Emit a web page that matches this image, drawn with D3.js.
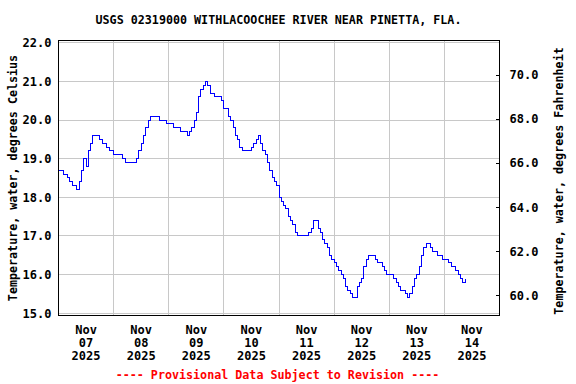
<!DOCTYPE html>
<html>
<head>
<meta charset="utf-8">
<script src="https://cdn.jsdelivr.net/npm/d3@7"></script>
<style>
  body { margin: 0; background: #fff; }
  text { font-family: "DejaVu Sans Mono", monospace; font-weight: bold; }
</style>
</head>
<body>
<svg id="chart" width="576" height="384"></svg>
<script>
// hourly water temperature, deg C, starting Nov 07 2025 00:00
var startTime = "2025-11-07T00:00:00";
var endTime = "2025-11-15T00:00:00";
var tempC = [
  18.7, 18.7, 18.6, 18.6, 18.5, 18.4, 18.3, 18.3, 18.2, 18.4, 18.7, 19.0, 18.8, 19.2, 19.4, 19.6,
  19.6, 19.6, 19.5, 19.4, 19.4, 19.3, 19.2, 19.2, 19.1, 19.1, 19.1, 19.1, 19.0, 18.9, 18.9, 18.9,
  18.9, 18.9, 19.0, 19.2, 19.4, 19.6, 19.8, 20.0, 20.1, 20.1, 20.1, 20.1, 20.0, 20.0, 20.0, 19.9,
  19.9, 19.9, 19.8, 19.8, 19.8, 19.7, 19.7, 19.7, 19.6, 19.7, 19.8, 20.0, 20.2, 20.6, 20.8, 20.9,
  21.0, 20.9, 20.7, 20.7, 20.6, 20.6, 20.6, 20.5, 20.3, 20.3, 20.1, 20.0, 19.8, 19.6, 19.5, 19.3,
  19.2, 19.2, 19.2, 19.2, 19.3, 19.4, 19.5, 19.6, 19.4, 19.2, 19.1, 18.9, 18.7, 18.5, 18.4, 18.3,
  18.0, 17.9, 17.8, 17.7, 17.5, 17.4, 17.3, 17.1, 17.0, 17.0, 17.0, 17.0, 17.0, 17.1, 17.2, 17.4,
  17.4, 17.2, 17.1, 16.9, 16.8, 16.7, 16.5, 16.4, 16.3, 16.2, 16.1, 16.0, 15.9, 15.7, 15.6, 15.5,
  15.4, 15.4, 15.7, 15.8, 15.9, 16.2, 16.4, 16.5, 16.5, 16.5, 16.4, 16.3, 16.3, 16.2, 16.1, 16.0,
  16.0, 16.0, 15.9, 15.8, 15.7, 15.6, 15.6, 15.5, 15.4, 15.5, 15.7, 15.9, 16.0, 16.2, 16.5, 16.7,
  16.8, 16.8, 16.7, 16.6, 16.6, 16.5, 16.5, 16.4, 16.4, 16.4, 16.3, 16.2, 16.2, 16.1, 16.0, 15.9,
  15.8, 15.9
];
var celsiusTicks = [15, 16, 17, 18, 19, 20, 21, 22];
var fahrenheitTicks = [60, 62, 64, 66, 68, 70];
var dayLabels = ["07", "08", "09", "10", "11", "12", "13", "14"];
var monthLabel = "Nov";
var yearLabel = "2025";
var titleText = "USGS 02319000 WITHLACOOCHEE RIVER NEAR PINETTA, FLA.";
var footerText = "---- Provisional Data Subject to Revision ----";
var leftTitle = "Temperature, water, degrees Celsius";
var rightTitle = "Temperature, water, degrees Fahrenheit";

var svg = d3.select("#chart");
var margin = { top: 40.5, left: 58.5 };
var plotWidth = 441;
var plotHeight = 275;

var t0 = new Date(startTime);
var points = tempC.map(function(v, i) {
  return { t: d3.timeHour.offset(t0, i), v: v };
});

var x = d3.scaleTime()
  .domain([t0, new Date(endTime)])
  .range([0, plotWidth]);
var yC = d3.scaleLinear()
  .domain([14.94, 22.06])
  .range([plotHeight, 0]);
// the fahrenheit axis on the original is drawn a little stretched
var yF = d3.scaleLinear()
  .domain([59.08, 71.57])
  .range([plotHeight, 0]);

var plot = svg.append("g")
  .attr("transform", "translate(" + margin.left + "," + margin.top + ")");

// grid
var midnights = d3.timeDay.range(d3.timeDay.offset(t0, 1), new Date(endTime));
plot.selectAll("line.vgrid").data(midnights).enter().append("line")
  .attr("class", "vgrid")
  .attr("x1", function(d) { return Math.round(x(d)); })
  .attr("x2", function(d) { return Math.round(x(d)); })
  .attr("y1", 0).attr("y2", plotHeight)
  .attr("stroke", "#c8c8c8").attr("shape-rendering", "crispEdges");
plot.selectAll("line.hgrid").data(celsiusTicks).enter().append("line")
  .attr("class", "hgrid")
  .attr("x1", 0).attr("x2", plotWidth)
  .attr("y1", function(d) { return Math.round(yC(d)); })
  .attr("y2", function(d) { return Math.round(yC(d)); })
  .attr("stroke", "#c8c8c8").attr("shape-rendering", "crispEdges");

// data line (snapped to pixels so it looks like the stepped original)
var line = d3.line()
  .x(function(d) { return Math.round(x(d.t)); })
  .y(function(d) { return Math.round(yC(d.v)); })
  .curve(d3.curveStepAfter);
plot.append("path")
  .datum(points)
  .attr("d", line)
  .attr("fill", "none")
  .attr("stroke", "#0000ff")
  .attr("stroke-width", 1)
  .attr("shape-rendering", "crispEdges");

// frame
plot.append("rect")
  .attr("width", plotWidth).attr("height", plotHeight)
  .attr("fill", "none").attr("stroke", "#000")
  .attr("shape-rendering", "crispEdges");

// left axis labels
var leftAxis = d3.axisLeft(yC).tickValues(celsiusTicks)
  .tickSize(0).tickPadding(7)
  .tickFormat(d3.format(".1f"));
var gl = plot.append("g").call(leftAxis);
gl.select(".domain").remove();
gl.selectAll("text").attr("font-size", 12).attr("fill", "#000")
  .style("font-family", "DejaVu Sans Mono").style("font-weight", "bold");

// right axis with inward ticks
var rightAxis = d3.axisRight(yF).tickValues(fahrenheitTicks)
  .tickSize(-4).tickPadding(10)
  .tickFormat(d3.format(".1f"));
var gr = plot.append("g")
  .attr("transform", "translate(" + plotWidth + ",0)")
  .call(rightAxis);
gr.select(".domain").remove();
gr.selectAll("line").attr("shape-rendering", "crispEdges");
gr.selectAll("text").attr("font-size", 12).attr("fill", "#000")
  .style("font-family", "DejaVu Sans Mono").style("font-weight", "bold");

// x labels at noon of each day
var noons = dayLabels.map(function(d, i) { return d3.timeHour.offset(t0, 12 + 24 * i); });
var xl = plot.selectAll("g.xlab").data(noons).enter().append("g")
  .attr("class", "xlab")
  .attr("transform", function(d) { return "translate(" + x(d) + "," + plotHeight + ")"; });
xl.append("text").attr("y", 18.5).attr("text-anchor", "middle").attr("font-size", 12).text(monthLabel);
xl.append("text").attr("y", 31.5).attr("text-anchor", "middle").attr("font-size", 12)
  .text(function(d, i) { return dayLabels[i]; });
xl.append("text").attr("y", 44).attr("text-anchor", "middle").attr("font-size", 12).text(yearLabel);

// titles
svg.append("text").attr("x", 278.5).attr("y", 24)
  .attr("text-anchor", "middle").attr("font-size", 11.7).text(titleText);
svg.append("text").attr("x", 277.5).attr("y", 379)
  .attr("text-anchor", "middle").attr("font-size", 11.7).attr("fill", "#ff0000").text(footerText);
svg.append("text")
  .attr("transform", "translate(16.5,178) rotate(-90)")
  .attr("text-anchor", "middle").attr("font-size", 11.7).text(leftTitle);
svg.append("text")
  .attr("transform", "translate(563,181) rotate(-90)")
  .attr("text-anchor", "middle").attr("font-size", 11.7).text(rightTitle);
</script>
</body>
</html>
